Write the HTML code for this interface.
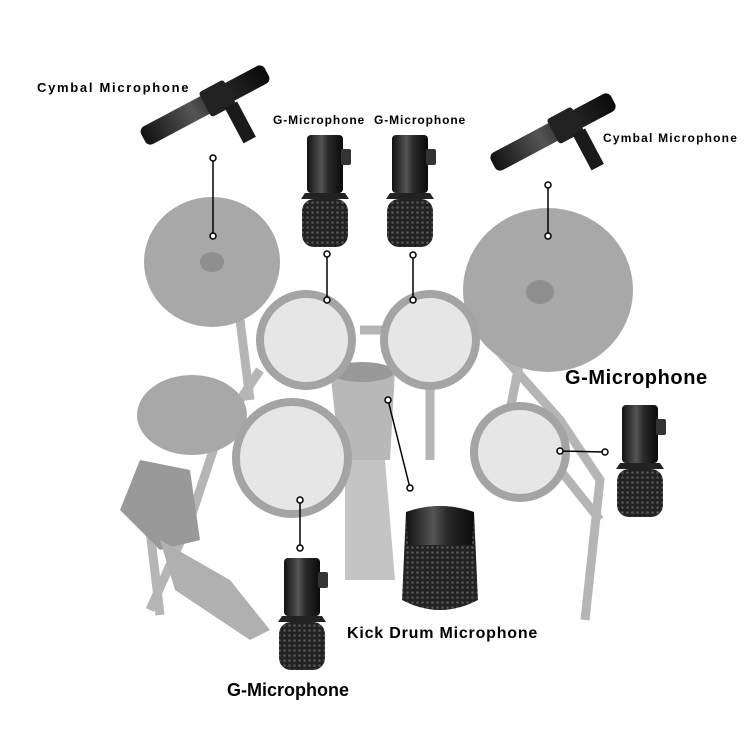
<!DOCTYPE html>
<html><head><meta charset="utf-8"><style>
html,body{margin:0;padding:0;background:#fff;width:750px;height:750px;overflow:hidden}
svg{display:block}
text{font-family:"Liberation Sans",sans-serif;font-weight:bold;fill:#000}
</style></head><body>
<svg width="750" height="750" viewBox="0 0 750 750">
<defs>
<linearGradient id="mg" x1="0" x2="1"><stop offset="0" stop-color="#111"/><stop offset=".4" stop-color="#555"/><stop offset=".6" stop-color="#2a2a2a"/><stop offset="1" stop-color="#0a0a0a"/></linearGradient>
<pattern id="grill" width="5" height="5" patternUnits="userSpaceOnUse"><rect width="5" height="5" fill="#222"/><circle cx="2.5" cy="2.5" r="1.3" fill="#555"/></pattern>
<g id="gmic">
<rect x="-18" y="0" width="36" height="58" rx="4" fill="url(#mg)"/>
<rect x="16" y="14" width="10" height="16" rx="2" fill="#333"/>
<path d="M-20 58 L20 58 L24 64 L-24 64 Z" fill="#222"/>
<rect x="-23" y="64" width="46" height="48" rx="12" fill="url(#grill)"/>
</g>
</defs>
<g stroke="#b5b5b5" stroke-width="9" fill="none">
<line x1="240" y1="320" x2="250" y2="400"/>
<line x1="520" y1="360" x2="510" y2="410"/>
<line x1="430" y1="380" x2="430" y2="460"/>
<path d="M360 330 L480 330 L560 420 L600 480 L585 620"/>
<path d="M260 370 L220 430 L190 520 L150 610"/>
<line x1="150" y1="530" x2="160" y2="615"/>
<line x1="560" y1="470" x2="600" y2="520"/>
</g>
<ellipse cx="212" cy="262" rx="68" ry="65" fill="#a8a8a8"/>
<ellipse cx="212" cy="262" rx="12" ry="10" fill="#8f8f8f"/>
<ellipse cx="548" cy="290" rx="85" ry="82" fill="#a8a8a8"/>
<ellipse cx="540" cy="292" rx="14" ry="12" fill="#8f8f8f"/>
<ellipse cx="192" cy="415" rx="55" ry="40" fill="#a8a8a8"/>
<path d="M140 460 L190 470 L200 540 L160 550 L120 510 Z" fill="#999"/>
<path d="M160 540 L230 580 L270 630 L250 640 L175 590 Z" fill="#b0b0b0"/>
<path d="M345 460 L385 460 L395 580 L345 580 Z" fill="#c4c4c4"/>
<path d="M330 370 L395 370 L390 460 L340 460 Z" fill="#b8b8b8"/>
<ellipse cx="362" cy="372" rx="32" ry="10" fill="#999"/>
<g fill="#e6e6e6" stroke="#a4a4a4" stroke-width="8">
<circle cx="306" cy="340" r="46"/>
<circle cx="430" cy="340" r="46"/>
<circle cx="292" cy="458" r="56"/>
<circle cx="520" cy="452" r="46"/>
</g>
<g transform="translate(205,105) rotate(-28)">
<rect x="-70" y="-10" width="140" height="20" rx="6" fill="url(#mg)"/>
<rect x="0" y="-14" width="28" height="28" rx="3" fill="#222"/>
<rect x="16" y="12" width="14" height="40" fill="#1a1a1a"/>
</g>
<g transform="translate(553,132) rotate(-28)">
<rect x="-68" y="-10" width="136" height="20" rx="6" fill="url(#mg)"/>
<rect x="0" y="-14" width="28" height="28" rx="3" fill="#222"/>
<rect x="16" y="12" width="14" height="40" fill="#1a1a1a"/>
</g>
<use href="#gmic" x="325" y="135"/>
<use href="#gmic" x="410" y="135"/>
<use href="#gmic" x="640" y="405"/>
<use href="#gmic" x="302" y="558"/>
<path d="M406 512 Q440 500 474 512 L478 600 Q440 620 402 600 Z" fill="url(#grill)"/>
<path d="M406 512 Q440 500 474 512 L472 545 L408 545 Z" fill="url(#mg)"/>
<g stroke="#000" stroke-width="1.5" fill="none">
<line x1="213" y1="158" x2="213" y2="236"/>
<line x1="327" y1="254" x2="327" y2="300"/>
<line x1="413" y1="255" x2="413" y2="300"/>
<line x1="548" y1="185" x2="548" y2="236"/>
<line x1="560" y1="451" x2="605" y2="452"/>
<line x1="388" y1="400" x2="410" y2="488"/>
<line x1="300" y1="500" x2="300" y2="548"/>
</g>
<g fill="#fff" stroke="#000" stroke-width="1.5">
<circle cx="213" cy="158" r="3"/><circle cx="213" cy="236" r="3"/>
<circle cx="327" cy="254" r="3"/><circle cx="327" cy="300" r="3"/>
<circle cx="413" cy="255" r="3"/><circle cx="413" cy="300" r="3"/>
<circle cx="548" cy="185" r="3"/><circle cx="548" cy="236" r="3"/>
<circle cx="560" cy="451" r="3"/><circle cx="605" cy="452" r="3"/>
<circle cx="388" cy="400" r="3"/><circle cx="410" cy="488" r="3"/>
<circle cx="300" cy="500" r="3"/><circle cx="300" cy="548" r="3"/>
</g>
<text x="37" y="92" font-size="13" letter-spacing="1.7">Cymbal Microphone</text>
<text x="273" y="124" font-size="12" letter-spacing="0.9">G-Microphone</text>
<text x="374" y="124" font-size="12" letter-spacing="0.9">G-Microphone</text>
<text x="603" y="142" font-size="12" letter-spacing="1.2">Cymbal Microphone</text>
<text x="565" y="384" font-size="20" letter-spacing="0.6">G-Microphone</text>
<text x="347" y="638" font-size="16" letter-spacing="0.8">Kick Drum Microphone</text>
<text x="227" y="696" font-size="18">G-Microphone</text>
</svg>
</body></html>
